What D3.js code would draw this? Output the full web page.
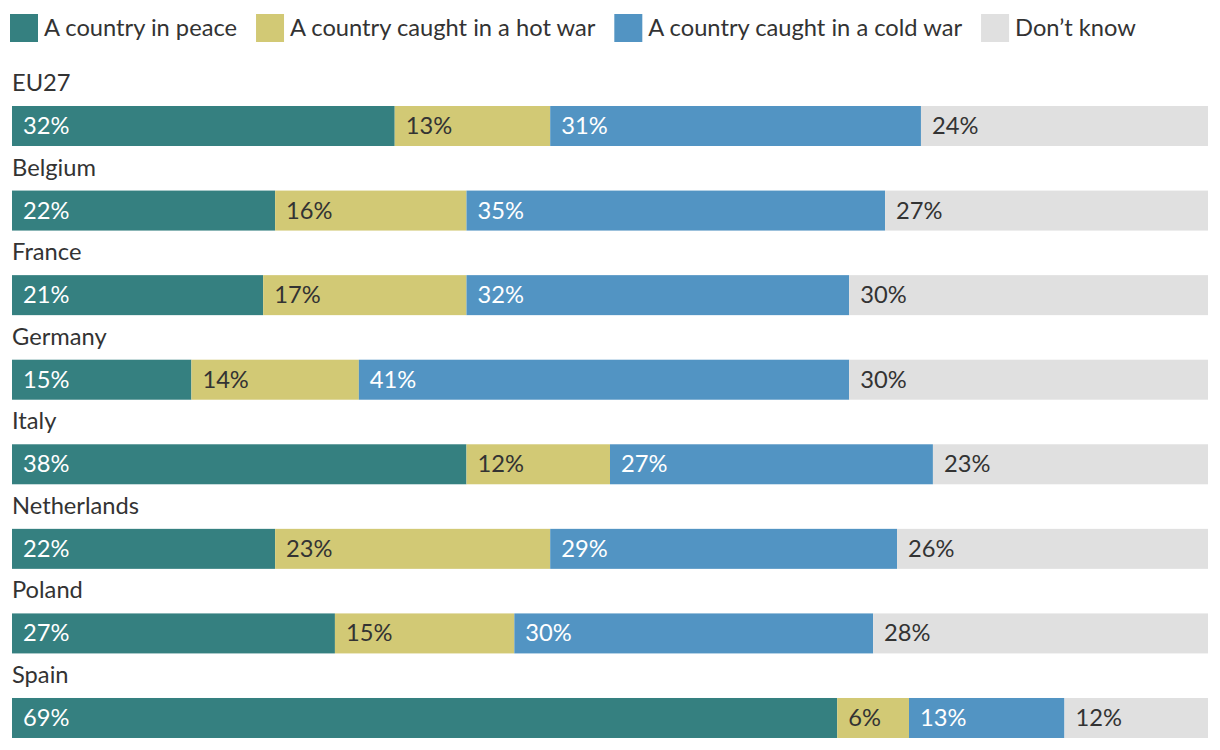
<!DOCTYPE html>
<html><head><meta charset="utf-8">
<script src="https://cdn.jsdelivr.net/npm/d3@7"></script>
<style>body{margin:0;background:#fff;font-family:Lato,sans-serif;}text{font-weight:400;}</style>
</head><body><svg id="c" width="1220" height="750"></svg>
<script>
const countries = ["EU27","Belgium","France","Germany","Italy","Netherlands","Poland","Spain"];
const seriesNames = ["A country in peace","A country caught in a hot war","A country caught in a cold war","Don\u2019t know"];
const peace = [32,22,21,15,38,22,27,69];
const hotWar = [13,16,17,14,12,23,15,6];
const coldWar = [31,35,32,41,27,29,30,13];
const dontKnow = [24,27,30,30,23,26,28,12];
const colors = ["#358080","#D2C975","#5294C3","#E0E0E0"];
const textColors = ["#fff","#333","#fff","#333"];

const svg = d3.select("#c");
const series = [peace, hotWar, coldWar, dontKnow];
const rows = countries.map((c,i)=>{
  let x0=0; const segs=series.map((s,k)=>{const seg={k,v:s[i],x0,x1:x0+s[i]}; x0+=s[i]; return seg;});
  return {c,segs};
});
const x = d3.scaleLinear().domain([0,100]).range([12,1208]);
const y = d3.scaleBand().domain(countries).range([83,83+8*84.57]).paddingInner(0).paddingOuter(0);
const barH = 40;

// legend
const lg = svg.append("g");
let lx = 10;
seriesNames.forEach((n,k)=>{
  lg.append("rect").attr("x",lx).attr("y",14).attr("width",28).attr("height",28).attr("fill",colors[k]);
  const t = lg.append("text").attr("x",lx+34).attr("y",36).attr("font-size",23.7).attr("fill","#333").text(n);
  lx = lx + 34 + t.node().getComputedTextLength() + 19;
});

const g = svg.selectAll("g.row").data(rows).join("g").attr("class","row")
  .attr("transform",d=>`translate(0,${y(d.c)})`);
g.append("text").attr("x",12).attr("y",8).attr("font-size",23.7).attr("fill","#333").text(d=>d.c);
g.selectAll("rect").data(d=>d.segs).join("rect")
  .attr("x",d=>x(d.x0)).attr("width",d=>x(d.x1)-x(d.x0)).attr("y",23).attr("height",barH)
  .attr("fill",d=>colors[d.k]);
g.selectAll("text.v").data(d=>d.segs).join("text").attr("class","v")
  .attr("x",d=>x(d.x0)+11).attr("y",51).attr("font-size",23.7).attr("fill",d=>textColors[d.k])
  .text(d=>d.v+"%");
</script></body></html>
